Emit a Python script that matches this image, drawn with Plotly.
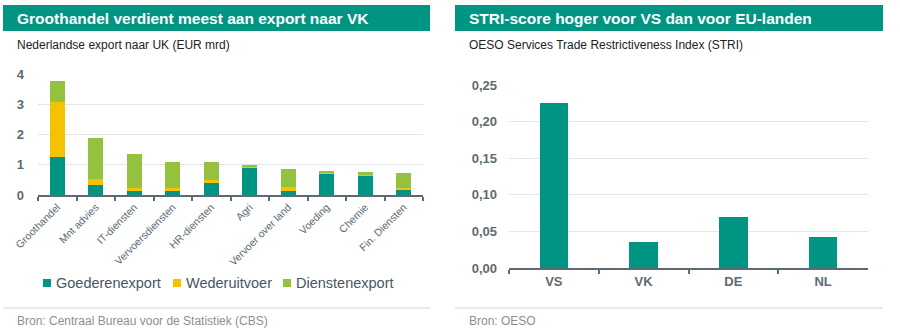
import plotly.graph_objects as go

# Left panel: Dutch exports to the UK by sector (EUR bn)
sectors = ["Groothandel", "Mnt advies", "IT-diensten", "Vervoersdiensten", "HR-diensten",
           "Agri", "Vervoer over land", "Voeding", "Chemie", "Fin. Diensten"]
goederen = [1.27, 0.32, 0.13, 0.13, 0.41, 0.92, 0.13, 0.72, 0.66, 0.18]
wederuitvoer = [1.81, 0.20, 0.09, 0.11, 0.10, 0.01, 0.14, 0.01, 0.01, 0.06]
diensten = [0.68, 1.38, 1.15, 0.86, 0.59, 0.05, 0.59, 0.07, 0.08, 0.48]
series_names = ["Goederenexport", "Wederuitvoer", "Dienstenexport"]
left_ticks = [0, 1, 2, 3, 4]

# Right panel: OECD STRI scores
countries = ["VS", "VK", "DE", "NL"]
stri = [0.226, 0.035, 0.070, 0.042]
right_ticks = [0, 0.05, 0.10, 0.15, 0.20, 0.25]
right_tick_labels = ["0,00", "0,05", "0,10", "0,15", "0,20", "0,25"]

TEAL = "#009483"
YELLOW = "#F5C200"
GREEN = "#94C23E"
AXIS = "#5d6a73"
GRID = "#e3e5e6"
FONT = "Liberation Sans, Arial, sans-serif"

W, H = 900, 332


def px_x(x):
    return x / W


def px_y(y):
    return 1 - y / H


fig = go.Figure()

colors = [TEAL, YELLOW, GREEN]
for name, vals, col in zip(series_names, [goederen, wederuitvoer, diensten], colors):
    fig.add_trace(go.Bar(x=sectors, y=vals, name=name, marker=dict(color=col, line_width=0),
                         width=0.4, xaxis="x", yaxis="y", showlegend=False))

fig.add_trace(go.Bar(x=countries, y=stri, marker=dict(color=TEAL, line_width=0),
                     width=0.32, xaxis="x2", yaxis="y2", showlegend=False))

axis_common = dict(showline=True, linecolor=AXIS, linewidth=2, ticks="outside",
                   tickson="boundaries", ticklen=4, tickcolor=AXIS, tickwidth=1.5,
                   showgrid=False, fixedrange=True, automargin=False)
yaxis_common = dict(showgrid=True, gridcolor=GRID, gridwidth=1, zeroline=False, ticks="",
                    automargin=False, fixedrange=True,
                    tickfont=dict(size=13, color=AXIS, weight="bold"))

fig.update_layout(
    width=W, height=H,
    margin=dict(l=0, r=0, t=0, b=0, autoexpand=False),
    paper_bgcolor="white", plot_bgcolor="white",
    barmode="stack",
    font=dict(family=FONT, color=AXIS),
    xaxis=dict(domain=[px_x(38), px_x(423)], anchor="y", tickangle=-45,
               tickfont=dict(size=10.5, color=AXIS), **axis_common),
    yaxis=dict(domain=[px_y(195), px_y(74)], anchor="x", range=[0, 4],
               tickvals=left_ticks, ticklabelstandoff=13, **yaxis_common),
    xaxis2=dict(domain=[px_x(509), px_x(868)], anchor="y2",
                tickfont=dict(size=13, color=AXIS, weight="bold"), **axis_common),
    yaxis2=dict(domain=[px_y(268), px_y(85)], anchor="x2", range=[0, 0.25],
                tickvals=right_ticks, ticktext=right_tick_labels, ticklabelstandoff=11,
                **yaxis_common),
    showlegend=False,
)

shapes = []
annotations = []
panels = [
    (3, 430, "Groothandel verdient meest aan export naar VK",
     "Nederlandse export naar UK (EUR mrd)",
     "Bron: Centraal Bureau voor de Statistiek (CBS)"),
    (455, 883, "STRI-score hoger voor VS dan voor EU-landen",
     "OESO Services Trade Restrictiveness Index (STRI)",
     "Bron: OESO"),
]
for x0, x1, title, sub, src in panels:
    shapes.append(dict(type="rect", xref="paper", yref="paper",
                       x0=px_x(x0), x1=px_x(x1), y0=px_y(31), y1=px_y(5),
                       fillcolor=TEAL, line_width=0, layer="below"))
    shapes.append(dict(type="line", xref="paper", yref="paper",
                       x0=px_x(x0), x1=px_x(x1), y0=px_y(308), y1=px_y(308),
                       line=dict(color="#d4d6d8", width=1)))
    annotations.append(dict(text=title, xref="paper", yref="paper", x=px_x(x0 + 12),
                            y=px_y(18), xanchor="left", yanchor="middle", showarrow=False,
                            font=dict(size=15.5, color="white", family=FONT, weight="bold")))
    annotations.append(dict(text=sub, xref="paper", yref="paper", x=px_x(x0 + 12),
                            y=px_y(45), xanchor="left", yanchor="middle", showarrow=False,
                            font=dict(size=12, color="#222222", family=FONT)))
    annotations.append(dict(text=src, xref="paper", yref="paper", x=px_x(x0 + 12),
                            y=px_y(321), xanchor="left", yanchor="middle", showarrow=False,
                            font=dict(size=12, color="#8a8f93", family=FONT)))

# Legend for the stacked bars: coloured square followed by the series name
legend_x = [43, 173, 283]
for lx, name, col in zip(legend_x, series_names, colors):
    shapes.append(dict(type="rect", xref="paper", yref="paper",
                       x0=px_x(lx), x1=px_x(lx + 8), y0=px_y(287), y1=px_y(279),
                       fillcolor=col, line_width=0))
    annotations.append(dict(text=name, xref="paper", yref="paper", x=px_x(lx + 11),
                            y=px_y(283), xanchor="left", yanchor="middle", showarrow=False,
                            font=dict(size=14.5, color="#4a5660", family=FONT)))

fig.update_layout(shapes=shapes, annotations=annotations)

fig.write_html("out.html")
